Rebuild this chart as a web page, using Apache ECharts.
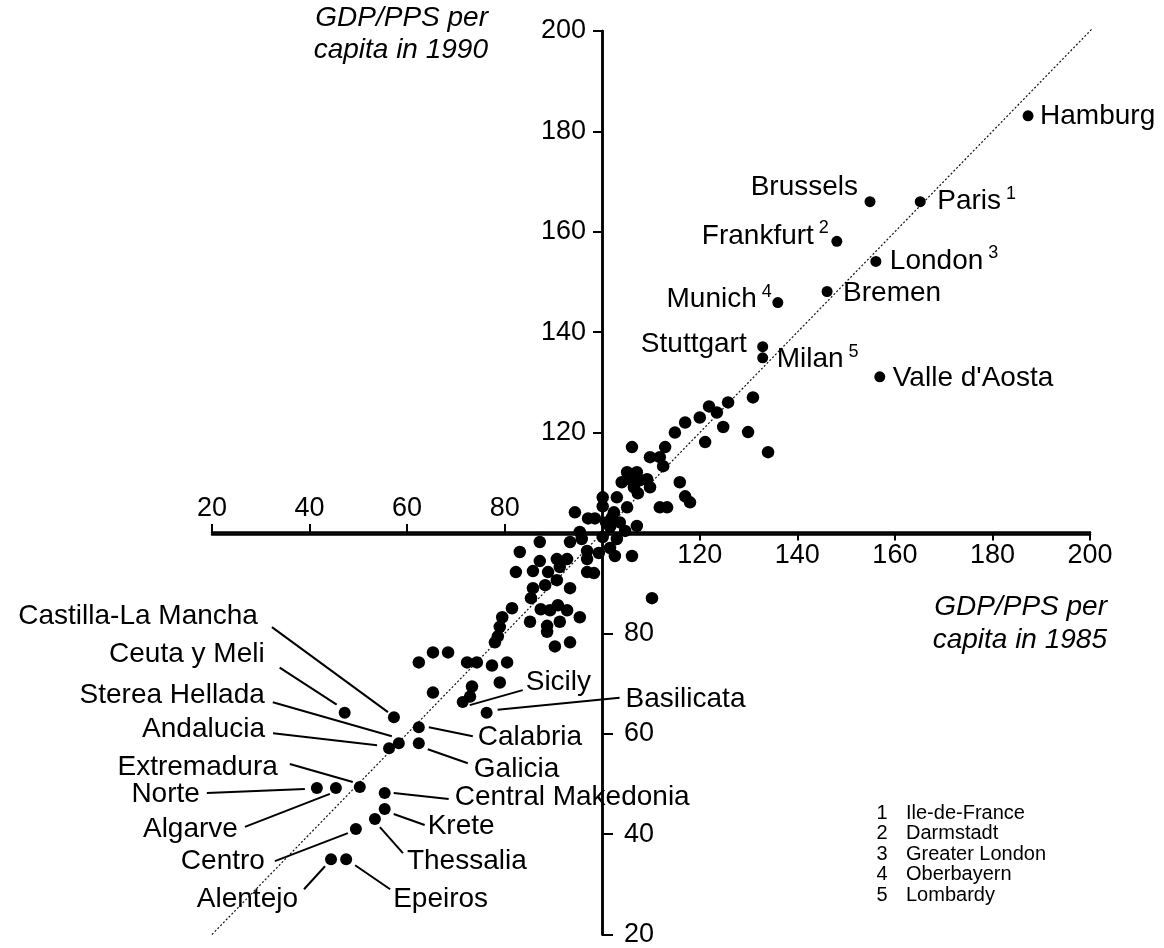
<!DOCTYPE html>
<html>
<head>
<meta charset="utf-8">
<script src="https://cdn.jsdelivr.net/npm/echarts@6/dist/echarts.min.js"></script>
<style>
html,body{margin:0;padding:0;background:#fff;}
#chart{width:1164px;height:948px;}
</style>
</head>
<body>
<div id="chart"></div>
<script>
// ---------- DATA ----------
// Unlabelled regions: GDP/PPS per capita (EU=100)
const gdp1985 = [130.9,125.8,121.9,123.5,120.0,117.0,114.9,124.8,129.9,121.1,
  106.1,112.9,109.8,111.8,112.5,105.1,107.1,104.0,105.7,107.7,
  109.2,106.5,109.8,107.3,115.9,117.0,118.0,111.8,113.3,105.1,
  103.0,100.1,100.1,94.4,97.1,98.5,102.0,107.1,102.4,100.8,
  103.6,104.7,101.6,95.4,95.8,93.4,100.1,96.9,96.9,99.3,
  101.6,102.6,103.0,106.1,134.0,87.2,83.1,87.2,90.7,92.8,
  82.3,85.8,88.9,91.3,96.9,98.3,85.8,88.3,90.7,93.4,
  85.4,87.4,89.3,90.9,92.8,110.2,95.4,81.5,79.5,79.0,
  85.2,88.7,88.7,91.3,78.6,78.0,90.3,93.4,68.4,65.3,
  62.4,72.3,74.3,77.4,80.5,73.3,79.0,72.9,65.3];
const gdp1990 = [127.0,126.0,125.2,124.0,123.0,122.0,120.0,121.1,120.1,118.1,
  117.1,117.1,115.1,115.1,113.3,112.1,112.1,110.1,110.7,110.5,
  110.7,109.1,109.1,107.9,110.1,107.3,106.1,105.1,105.1,105.1,
  107.1,107.1,105.3,104.1,102.9,102.9,103.1,101.4,104.1,102.1,
  102.1,100.4,101.2,100.2,98.8,98.2,99.2,96.4,94.8,96.0,
  97.0,95.4,98.8,95.4,116.1,98.2,96.2,94.4,94.8,94.8,
  92.2,92.4,92.2,93.2,92.2,92.0,89.0,89.6,90.6,89.0,
  87.0,84.8,84.6,85.6,84.6,87.0,83.2,85.0,83.2,81.3,
  82.3,81.5,80.3,82.3,79.4,78.2,77.4,78.2,76.2,76.2,
  74.2,74.2,74.2,73.6,74.2,69.4,70.2,67.4,68.2];

// Labelled regions
const namedRegions = ['Hamburg','Brussels','Paris','Frankfurt','London','Bremen','Munich','Stuttgart','Milan',"Valle d'Aosta",
  'Sicily','Basilicata','Ceuta y Meli','Castilla-La Mancha','Calabria','Sterea Hellada','Andalucia','Galicia',
  'Extremadura','Norte','Algarve','Central Makedonia','Krete','Thessalia','Centro','Alentejo','Epeiros'];
const named1985 = [187.3,154.9,165.2,148.1,156.1,146.1,136.0,132.9,132.9,156.9,
  71.4,76.3,47.2,57.3,62.4,58.3,56.3,62.4,
  50.3,41.5,45.4,55.4,55.4,53.4,49.5,44.4,47.5];
const named1990 = [183.1,166.0,166.0,158.1,154.1,148.1,145.9,137.1,134.9,131.1,
  66.3,64.2,64.2,63.3,61.3,58.1,57.1,58.1,
  49.4,49.2,49.2,48.2,45.0,43.0,41.0,35.0,35.0];
const footnoteRefs = ['','','1','2','3','','4','','5','',
  '','','','','','','','','','','','','','','','',''];

// Axis ticks
const xTicksLeft = [20,40,60,80];
const xTicksRight = [120,140,160,180,200];
const yTicksUpper = [120,140,160,180,200];
const yTicksLower = [20,40,60,80];

// Footnotes
const footnoteNums = ['1','2','3','4','5'];
const footnoteNames = ['Ile-de-France','Darmstadt','Greater London','Oberbayern','Lombardy'];

// Diagonal reference line (1990 = 1985)
const diagonalEnds = [16, 200.5];

// ---------- LAYOUT (pixel offsets of labels relative to their dot) ----------
const labelLayout = {
  'Hamburg': {dx:12, dy:0, align:'left'},
  'Brussels': {dx:-12, dy:-14, align:'right'},
  'Paris': {dx:17, dy:0, align:'left'},
  'Frankfurt': {dx:-8, dy:-5, align:'right'},
  'London': {dx:14, dy:0, align:'left'},
  'Bremen': {dx:16, dy:2, align:'left'},
  'Munich': {dx:-6, dy:-3, align:'right'},
  'Stuttgart': {dx:-16, dy:-2, align:'right'},
  'Milan': {dx:14, dy:2, align:'left'},
  "Valle d'Aosta": {dx:13, dy:1, align:'left'},
  'Sicily': {dx:63, dy:-20, align:'left', line:[7,3,60,-12]},
  'Basilicata': {dx:139, dy:-13, align:'left', line:[11,-3,133,-15]},
  'Ceuta y Meli': {dx:-80, dy:-58, align:'right', line:[-65,-45,-8,-8]},
  'Castilla-La Mancha': {dx:-136, dy:-101, align:'right', line:[-122,-90,-6,-5]},
  'Calabria': {dx:59, dy:10, align:'left', line:[10,0,54,9]},
  'Sterea Hellada': {dx:-134, dy:-48, align:'right', line:[-126,-41,-7,-7]},
  'Andalucia': {dx:-124, dy:-19, align:'right', line:[-116,-15,-12,-3]},
  'Galicia': {dx:55, dy:26, align:'left', line:[9,6,49,20]},
  'Extremadura': {dx:-82, dy:-20, align:'right', line:[-70,-23,-7,-5]},
  'Norte': {dx:-117, dy:6, align:'right', line:[-110,5,-12,1]},
  'Algarve': {dx:-98, dy:41, align:'right', line:[-91,39,-6,6]},
  'Central Makedonia': {dx:70, dy:4, align:'left', line:[9,0,64,6]},
  'Krete': {dx:43, dy:17, align:'left', line:[9,5,40,16]},
  'Thessalia': {dx:32, dy:42, align:'left', line:[5,8,28,34]},
  'Centro': {dx:-91, dy:32, align:'right', line:[-81,32,-8,4]},
  'Alentejo': {dx:-33, dy:40, align:'right', line:[-27,30,-6,7]},
  'Epeiros': {dx:47, dy:40, align:'left', line:[9,6,44,30]}
};

const FONT = '"Liberation Sans", Arial, Helvetica, sans-serif';
const LABEL_SIZE = 28;
const SUP_SIZE = 18;

const chart = echarts.init(document.getElementById('chart'), null, {renderer:'canvas'});

const axisLineStyle = {color:'#000', width:2.5};
const tickStyle = {color:'#000', width:2};
const tickLabel = {fontSize:27, color:'#000', fontFamily:FONT};

function axisCfg(pos, offset, ticks, margin, tickLen) {
  return {
    type:'value', min:20, max:200, interval:20, position:pos, offset:offset,
    axisLine:{show:true, onZero:false, lineStyle:axisLineStyle},
    axisTick:{show:true, length:tickLen, lineStyle:tickStyle, customValues:ticks},
    axisLabel:Object.assign({customValues:ticks, margin:margin}, tickLabel),
    splitLine:{show:false}
  };
}

const option = {
  animation:false,
  backgroundColor:'#fff',
  grid:{left:212, right:74, top:31, bottom:12, containLabel:false},
  xAxis:[
    axisCfg('top', -503, xTicksLeft, 12, 10),
    axisCfg('bottom', -402, xTicksRight, 10, 8)
  ],
  yAxis:[
    axisCfg('left', -390, yTicksUpper, 16, 9),
    axisCfg('right', -488, yTicksLower, 22, 11)
  ],
  series:[
    {
      name:'diagonal', type:'line', xAxisIndex:0, yAxisIndex:0,
      data:[[diagonalEnds[0],diagonalEnds[0]],[diagonalEnds[1],diagonalEnds[1]]],
      symbol:'none', clip:false, silent:true, z:1,
      lineStyle:{color:'#111', width:1.2, type:[2,2]}
    },
    {
      name:'regions', type:'scatter', xAxisIndex:0, yAxisIndex:0,
      data:gdp1985.map((x,i)=>[x,gdp1990[i]]),
      symbol:'circle', symbolSize:12.5, silent:true, z:3,
      itemStyle:{color:'#000', opacity:1}
    },
    {
      name:'named', type:'scatter', xAxisIndex:0, yAxisIndex:0,
      data:namedRegions.map((n,i)=>({name:n, value:[named1985[i], named1990[i]]})),
      symbol:'circle', symbolSize:(v)=> v[1] > 120 ? 11 : 12, silent:true, z:3,
      itemStyle:{color:'#000', opacity:1}
    }
  ]
};
chart.setOption(option);

// ---------- annotations ----------
const ctx = document.createElement('canvas').getContext('2d');
function textWidth(t, size) {
  ctx.font = size + 'px ' + FONT;
  return ctx.measureText(t).width;
}
function txt(x, y, text, size, align, italic) {
  return {
    type:'text', x:x, y:y, silent:true, z:10,
    style:{
      text:text, fill:'#000',
      font:(italic ? 'italic ' : '') + size + 'px ' + FONT,
      align:align, verticalAlign:'middle',
      textAlign:align, textVerticalAlign:'middle'
    }
  };
}

const els = [];
namedRegions.forEach((name, i) => {
  const p = chart.convertToPixel({seriesIndex:2}, [named1985[i], named1990[i]]);
  const L = labelLayout[name];
  const sup = footnoteRefs[i];
  const ax = p[0] + L.dx, ay = p[1] + L.dy;
  if (sup) {
    const sw = textWidth(sup, SUP_SIZE);
    const nw = textWidth(name, LABEL_SIZE);
    const gap = 5;
    if (L.align === 'left') {
      els.push(txt(ax, ay, name, LABEL_SIZE, 'left'));
      els.push(txt(ax + nw + gap, ay - 8, sup, SUP_SIZE, 'left'));
    } else {
      els.push(txt(ax, ay - 8, sup, SUP_SIZE, 'right'));
      els.push(txt(ax - sw - gap, ay, name, LABEL_SIZE, 'right'));
    }
  } else {
    els.push(txt(ax, ay, name, LABEL_SIZE, L.align));
  }
  if (L.line) {
    els.push({type:'line', silent:true, z:9,
      shape:{x1:p[0]+L.line[0], y1:p[1]+L.line[1], x2:p[0]+L.line[2], y2:p[1]+L.line[3]},
      style:{stroke:'#000', lineWidth:2}});
  }
});

// axis titles
els.push(txt(488, 18, 'GDP/PPS per', 28, 'right', true));
els.push(txt(488, 50, 'capita in 1990', 28, 'right', true));
els.push(txt(1107, 607, 'GDP/PPS per', 28, 'right', true));
els.push(txt(1107, 640, 'capita in 1985', 28, 'right', true));

// footnotes
footnoteNums.forEach((n, i) => {
  const y = 813 + i * 20.5;
  els.push(txt(882, y, n, 20, 'center'));
  els.push(txt(906, y, footnoteNames[i], 20, 'left'));
});

chart.setOption({graphic:{elements:els}});
</script>
</body>
</html>
